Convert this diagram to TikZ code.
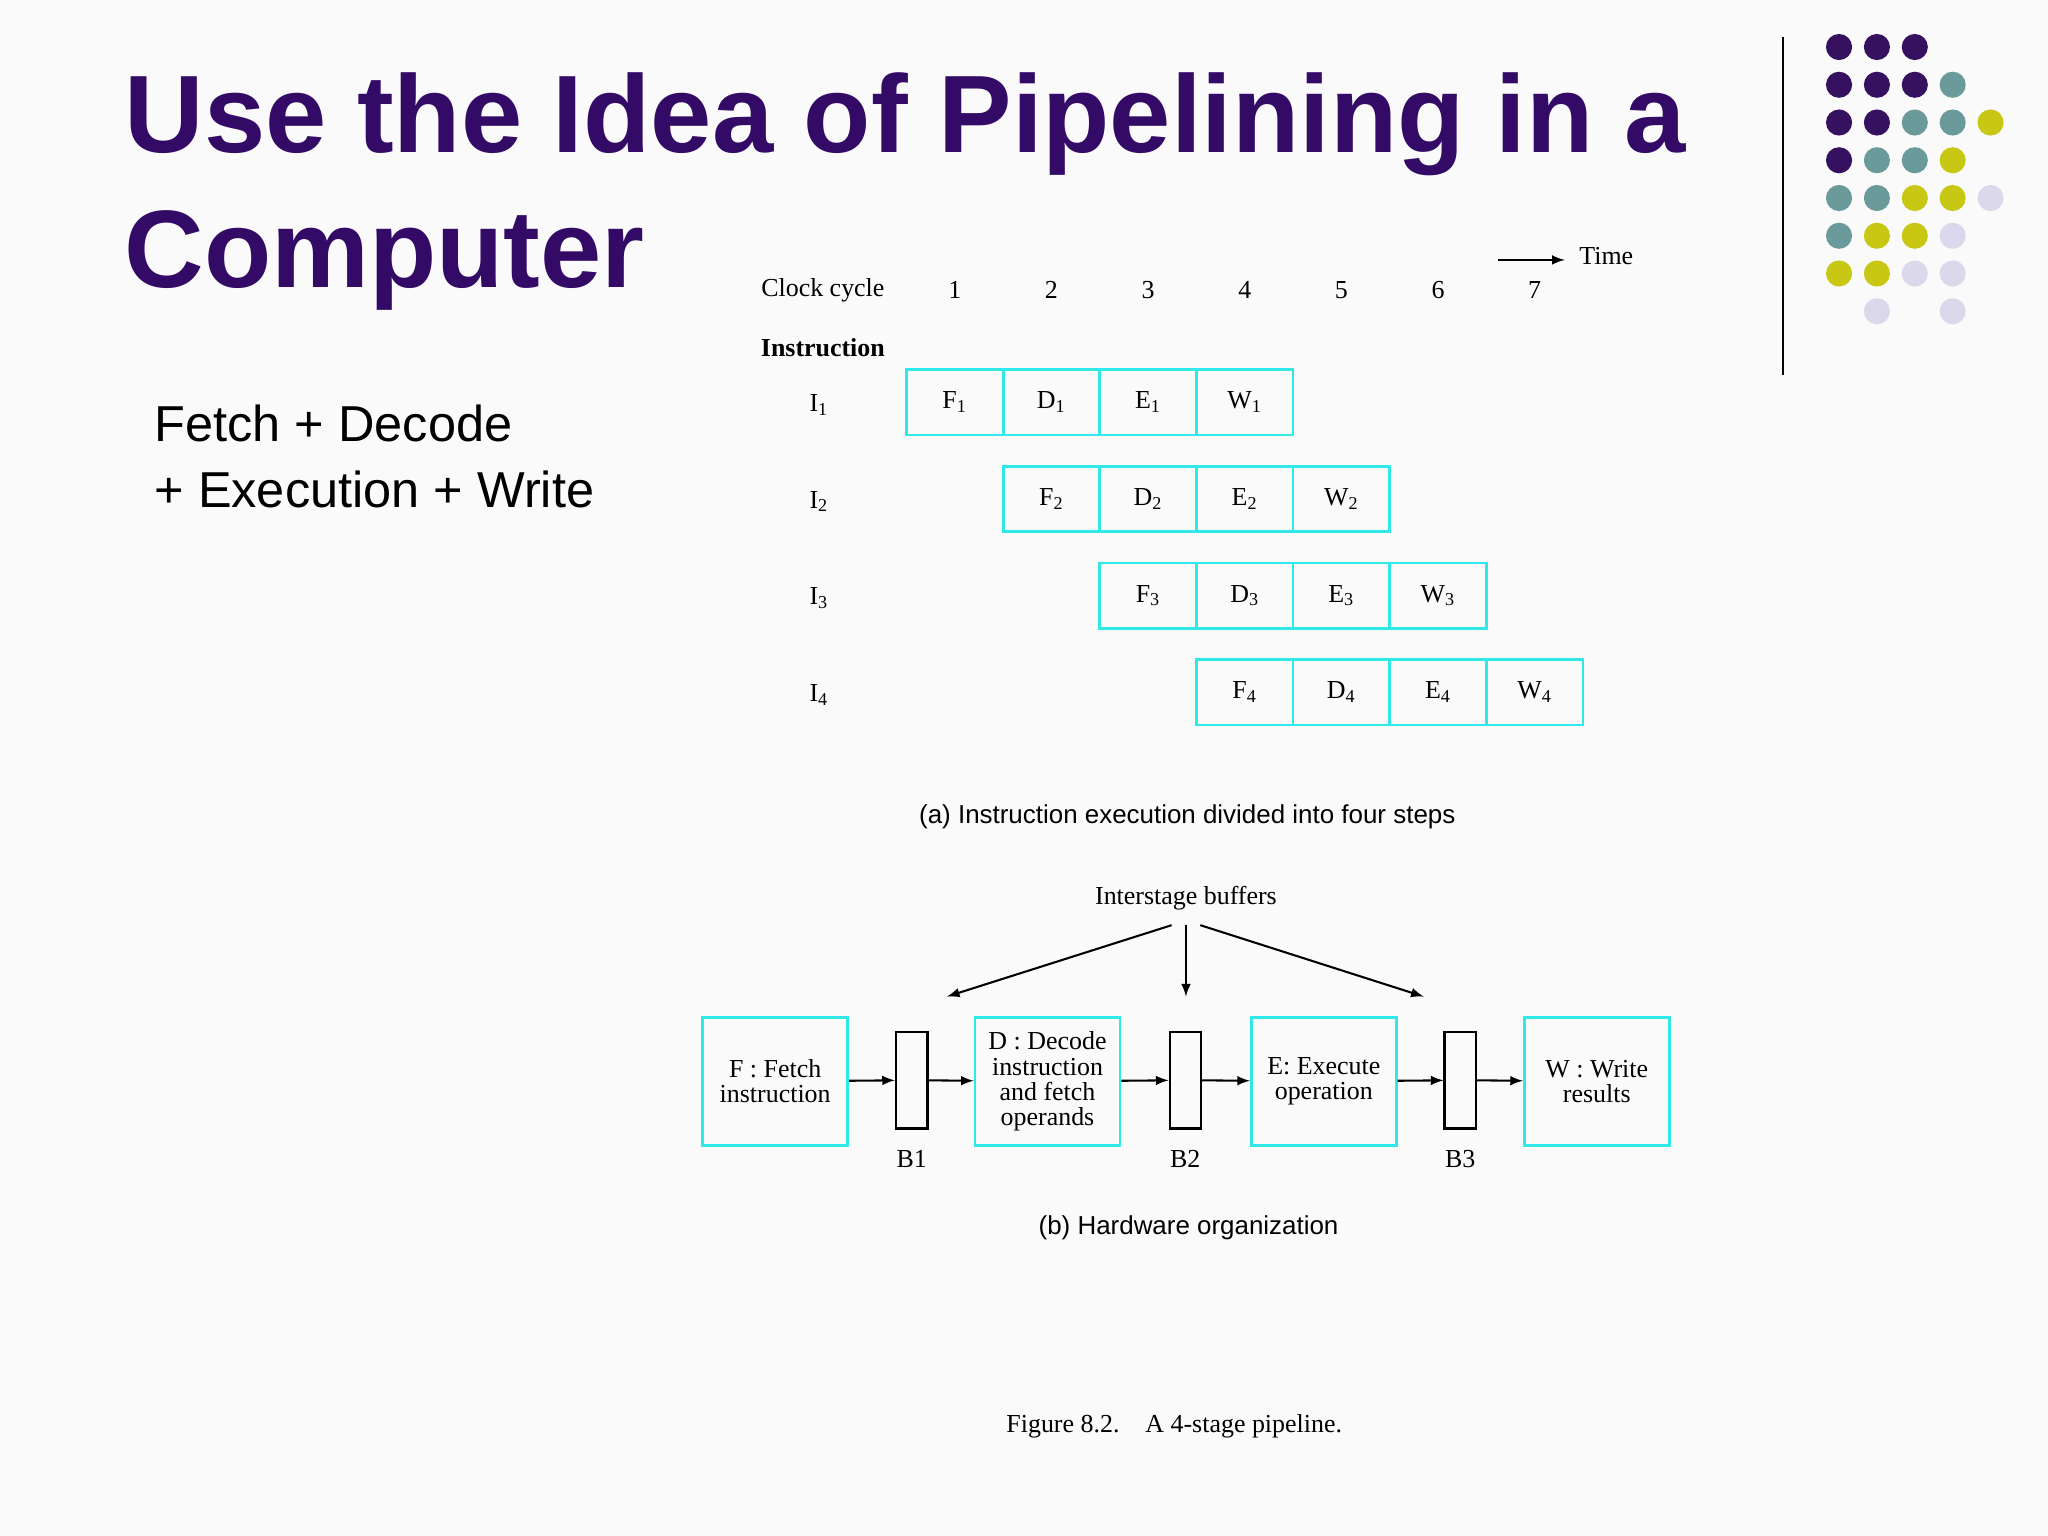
\documentclass[tikz,border=0pt]{standalone}
\usepackage{fontspec}
\setmainfont{Liberation Serif}
\newfontfamily\sansf{Liberation Sans}
\usetikzlibrary{arrows,positioning}
\definecolor{titlepurple}{HTML}{330A66}
\definecolor{dotpurple}{HTML}{36115F}
\definecolor{dotteal}{HTML}{6B9A9A}
\definecolor{dotyellow}{HTML}{C8C814}
\definecolor{dotlilac}{HTML}{DCD8EC}
\definecolor{stagecyan}{HTML}{30E8E8}
\begin{document}
\begin{tikzpicture}[
            x=0.02cm, y=-0.02cm,
            serif/.style={font=\fontsize{11.3}{13}\selectfont},
            cell/.style={draw=stagecyan, line width=1.2pt, minimum width=1.48cm, minimum height=1cm, inner sep=0pt, serif},
            stage/.style={draw=stagecyan, line width=1.2pt, minimum width=2.22cm, minimum height=1.96cm, align=center, inner sep=0pt, font=\fontsize{11.3}{11}\selectfont},
            buffer/.style={draw, line width=1pt, minimum width=0.48cm, minimum height=1.48cm, inner sep=0pt},
            arrow/.style={-latex, line width=0.9pt},
            caption/.style={font=\sansf\fontsize{11.3}{13}\selectfont}
        ]
            \fill[white!98!black] (0,0) rectangle (1568,1176);
            \useasboundingbox (0,0) rectangle (1568,1176);
            % title and text
            \node[anchor=base west, text=titlepurple, font=\sansf\bfseries\fontsize{48}{50}\selectfont, inner sep=0pt] (title1) at (95,117) {Use the Idea of Pipelining in a};
            \node[anchor=base west, text=titlepurple, font=\sansf\bfseries\fontsize{48}{50}\selectfont, inner sep=0pt] (title2) at (95,220) {Computer};
            \node[anchor=north west, align=left, font=\sansf\fontsize{22}{28.5}\selectfont, inner sep=0pt] (summary) at (118,310) {Fetch + Decode\\+ Execution + Write};
            % dots
            \draw[line width=1pt] (1365,28) -- (1365,287);
            \foreach \col/\row/\clr in {0/0/dotpurple,1/0/dotpurple,2/0/dotpurple,
                0/1/dotpurple,1/1/dotpurple,2/1/dotpurple,3/1/dotteal,
                0/2/dotpurple,1/2/dotpurple,2/2/dotteal,3/2/dotteal,4/2/dotyellow,
                0/3/dotpurple,1/3/dotteal,2/3/dotteal,3/3/dotyellow,
                0/4/dotteal,1/4/dotteal,2/4/dotyellow,3/4/dotyellow,4/4/dotlilac,
                0/5/dotteal,1/5/dotyellow,2/5/dotyellow,3/5/dotlilac,
                0/6/dotyellow,1/6/dotyellow,2/6/dotlilac,3/6/dotlilac,
                1/7/dotlilac,3/7/dotlilac}
                \fill[\clr] (1408+29*\col,36+28.9*\row) circle (10);
            % (a) timing chart
            \node[serif] (clock) at (630,222) {Clock cycle};
            \node[serif, font=\fontsize{11.3}{13}\selectfont\bfseries] (instr) at (630,266) {Instruction};
            \foreach \k in {1,...,7}
                \node[serif] (cyc\k) at (731+74*\k-74,222) {\k};
            \coordinate (tstart) at (1147,199);
            \node[serif, anchor=west] (time) at (1203,196) {Time};
            \draw[arrow] (tstart) -- ([xshift=-0.1cm]time.west |- tstart);
            \foreach \i in {1,...,4} {
                \node[serif] (I\i) at (627,310+74*\i-74) {I\textsubscript{\i}};
                \foreach \s [count=\j] in {F,D,E,W}
                    \node[cell] (\s\i) at (731+74*\i+74*\j-148,308+74*\i-74) {\raisebox{-2pt}{\s\textsubscript{\i}}};
            }
            \node[caption] (capa) at (909,625) {(a) Instruction execution divided into four steps};
            % (b) hardware organization
            \node[stage] (fetch) at (593.5,828) {F : Fetch\\instruction};
            \node[buffer] (b1) at (698,827) {};
            \node[stage] (decode) at (802,828) {D : Decode\\instruction\\and fetch\\operands};
            \node[buffer] (b2) at (907.5,827) {};
            \node[stage] (execute) at (1013.5,828) {E: Execute\\operation};
            \node[buffer] (b3) at (1118,827) {};
            \node[stage] (write) at (1222.5,828) {W : Write\\results};
            \foreach \b in {1,2,3}
                \node[serif, below=0.2cm of b\b] (lb\b) {B\b};
            \draw[arrow] (fetch) -- (b1);
            \draw[arrow] (b1) -- (decode);
            \draw[arrow] (decode) -- (b2);
            \draw[arrow] (b2) -- (execute);
            \draw[arrow] (execute) -- (b3);
            \draw[arrow] (b3) -- (write);
            \node[serif] (inter) at (908,688) {Interstage buffers};
            \coordinate (tip1) at (725,763);
            \coordinate (tip2) at (908,763);
            \coordinate (tip3) at (1090,763);
            \draw[arrow] ([xshift=-0.22cm,yshift=-0.1cm]inter.south) -- (tip1);
            \draw[arrow] ([yshift=-0.1cm]inter.south) -- (tip2);
            \draw[arrow] ([xshift=0.22cm,yshift=-0.1cm]inter.south) -- (tip3);
            \node[caption] (capb) at (910,940) {(b) Hardware organization};
            \node[serif] (figcap) at (899,1092) {Figure 8.2.\quad A 4-stage pipeline.};
        \end{tikzpicture}
\end{document}
